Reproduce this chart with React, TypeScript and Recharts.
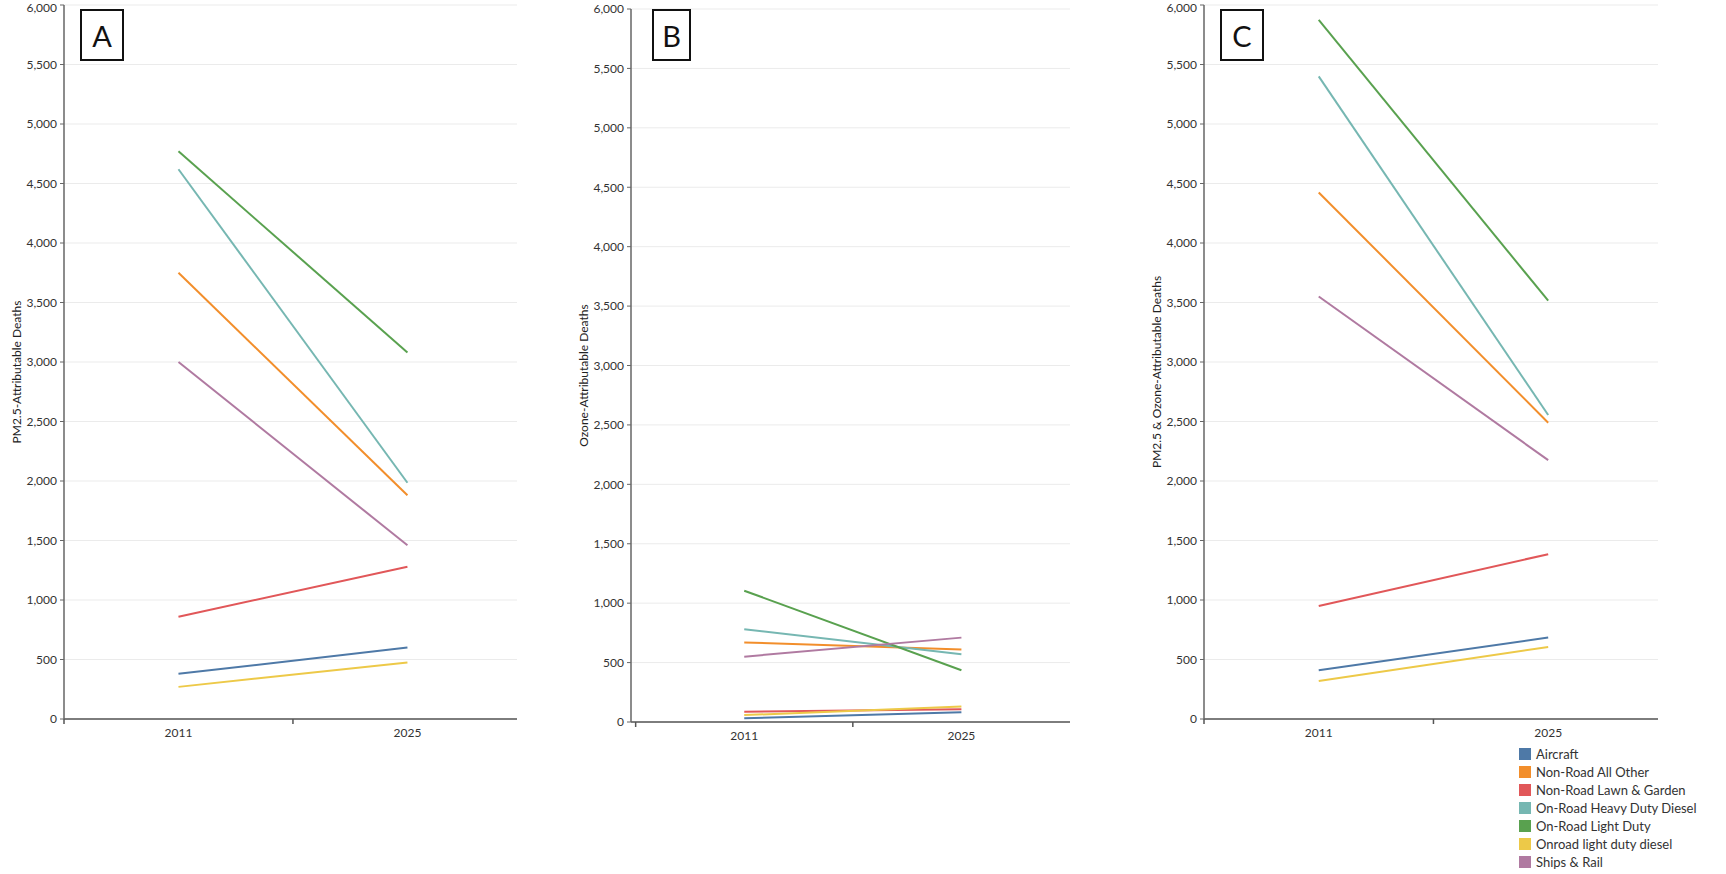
import { LineChart, Line, XAxis, YAxis, CartesianGrid, Label, Legend } from "recharts";

const years = [2011, 2025];
const sources = [
  "Aircraft",
  "Non-Road All Other",
  "Non-Road Lawn & Garden",
  "On-Road Heavy Duty Diesel",
  "On-Road Light Duty",
  "Onroad light duty diesel",
  "Ships & Rail",
];
const colors = ["#4e79a7", "#f28e2b", "#e15759", "#76b7b2", "#59a14f", "#edc948", "#b07aa1"];

// values per source, same order as `sources`
const pm25_2011 = [380, 3750, 860, 4620, 4770, 270, 3000];
const pm25_2025 = [600, 1880, 1280, 1985, 3080, 475, 1460];
const ozone_2011 = [32, 670, 87, 780, 1105, 58, 550];
const ozone_2025 = [83, 610, 108, 570, 435, 130, 710];
const both_2011 = [410, 4425, 950, 5400, 5875, 320, 3550];
const both_2025 = [685, 2490, 1385, 2555, 3515, 605, 2175];

const yTicks = [0, 500, 1000, 1500, 2000, 2500, 3000, 3500, 4000, 4500, 5000, 5500, 6000];
const xTicks = [2004, 2011, 2018, 2025];
const labeledYears = [2011, 2025];

const FONT = "Lato, 'Open Sans', sans-serif";

function buildRows(v2011: number[], v2025: number[]) {
  const vals = [v2011, v2025];
  return years.map((year, i) => {
    const row: Record<string, number> = { year };
    sources.forEach((_, j) => {
      row["s" + j] = vals[i][j];
    });
    return row;
  });
}

const XTick = (props: any) => {
  const { x, y, payload } = props;
  if (labeledYears.includes(payload.value)) {
    return (
      <text x={x} y={y + 10} textAnchor="middle" fontSize={12} fill="#333" fontFamily={FONT}>
        {payload.value}
      </text>
    );
  }
  return <line x1={x} x2={x} y1={y - 8} y2={y - 3} stroke="#555" strokeWidth={1.5} />;
};

function YTitle({ viewBox, text }: any) {
  const x = viewBox.x + viewBox.width - 43;
  const y = viewBox.y + viewBox.height / 2 + 10;
  return (
    <text
      x={x}
      y={y}
      transform={`rotate(-90 ${x} ${y})`}
      textAnchor="middle"
      fontSize={12}
      fill="#222"
      fontFamily={FONT}
    >
      {text}
    </text>
  );
}

function LegendBox() {
  return (
    <div style={{ fontFamily: FONT, fontSize: 13, color: "#333" }}>
      {sources.map((s, i) => (
        <div key={s} style={{ display: "flex", alignItems: "center", height: 18 }}>
          <span style={{ width: 12, height: 12, background: colors[i], marginRight: 5 }} />
          <span>{s}</span>
        </div>
      ))}
    </div>
  );
}

interface PanelProps {
  left: number;
  width: number;
  height: number;
  margin: { top: number; right: number; bottom: number; left: number };
  rows: Record<string, number>[];
  yLabel: string;
  letter: string;
  box: { left: number; width: number };
  xDomain: [number, number];
  showLegend?: boolean;
}

function Panel({ left, width, height, margin, rows, yLabel, letter, box, xDomain, showLegend }: PanelProps) {
  return (
    <div style={{ position: "absolute", left, top: 0, width, height }}>
      <LineChart width={width} height={height} data={rows} margin={margin}>
        <CartesianGrid vertical={false} stroke="#ebebeb" />
        <XAxis
          dataKey="year"
          type="number"
          domain={xDomain}
          ticks={xTicks}
          allowDataOverflow
          tick={<XTick />}
          tickLine={false}
          axisLine={{ stroke: "#555", strokeWidth: 1.5 }}
          height={30}
        />
        <YAxis
          domain={[0, 6000]}
          ticks={yTicks}
          width={50}
          tickSize={4}
          tickMargin={3}
          tickFormatter={(v: number) => v.toLocaleString("en-US")}
          tick={{ fill: "#333", fontSize: 12, fontFamily: FONT }}
          tickLine={{ stroke: "#666" }}
          axisLine={{ stroke: "#666", strokeWidth: 1.5 }}
        >
          <Label content={(p: any) => <YTitle viewBox={p.viewBox} text={yLabel} />} />
        </YAxis>
        {sources.map((s, i) => (
          <Line
            key={s}
            dataKey={"s" + i}
            name={s}
            stroke={colors[i]}
            strokeWidth={2}
            dot={false}
            isAnimationActive={false}
          />
        ))}
        {showLegend && (
          <Legend
            layout="vertical"
            align="center"
            verticalAlign="middle"
            wrapperStyle={{ left: 379, top: 745, width: 220 }}
            content={() => <LegendBox />}
          />
        )}
      </LineChart>
      <div
        style={{
          position: "absolute",
          left: box.left,
          top: 9,
          width: box.width,
          height: 52,
          boxSizing: "border-box",
          border: "2px solid #111",
          display: "flex",
          alignItems: "center",
          justifyContent: "center",
          fontFamily: FONT,
          fontSize: 29,
          color: "#111",
          background: "#fff",
        }}
      >
        {letter}
      </div>
    </div>
  );
}

export default function App() {
  return (
    <div style={{ position: "absolute", left: 0, top: 0, width: 1726, height: 874, background: "#fff" }}>
      <Panel
        left={0}
        width={530}
        height={760}
        margin={{ top: 5, right: 13, bottom: 11, left: 14 }}
        rows={buildRows(pm25_2011, pm25_2025)}
        yLabel="PM2.5-Attributable Deaths"
        letter="A"
        box={{ left: 80, width: 44 }}
        xDomain={[2004, 2031.7]}
      />
      <Panel
        left={560}
        width={530}
        height={760}
        margin={{ top: 9, right: 20, bottom: 8, left: 21 }}
        rows={buildRows(ozone_2011, ozone_2025)}
        yLabel="Ozone-Attributable Deaths"
        letter="B"
        box={{ left: 92, width: 39 }}
        xDomain={[2003.7, 2032]}
      />
      <Panel
        left={1140}
        width={530}
        height={874}
        margin={{ top: 5, right: 12, bottom: 125, left: 14 }}
        rows={buildRows(both_2011, both_2025)}
        yLabel="PM2.5 & Ozone-Attributable Deaths"
        letter="C"
        box={{ left: 80, width: 44 }}
        xDomain={[2004, 2031.7]}
        showLegend
      />
    </div>
  );
}
